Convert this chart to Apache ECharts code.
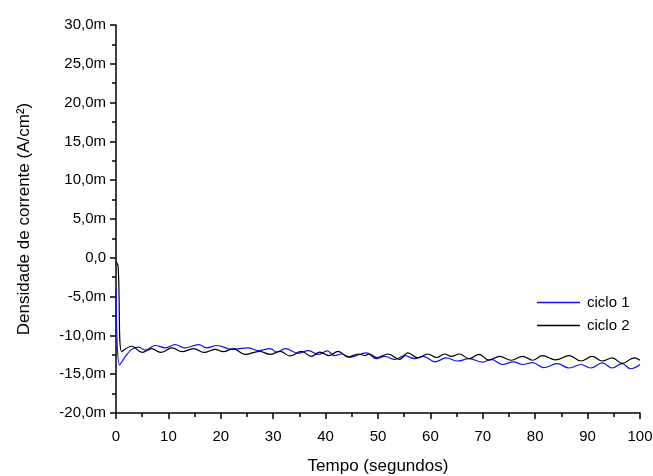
<!DOCTYPE html>
<html>
<head>
<meta charset="utf-8">
<script src="https://cdn.jsdelivr.net/npm/echarts@6/dist/echarts.min.js"></script>
<style>
html,body{margin:0;padding:0;background:#fff;}
#c{width:653px;height:476px;}
</style>
</head>
<body>
<div id="c"></div>
<script>
// Data (current density in mA/cm², time in seconds)
const seriesNames = ['ciclo 1', 'ciclo 2'];
const yTicks = [-20, -15, -10, -5, 0, 5, 10, 15, 20, 25, 30];
const xTicks = [0, 10, 20, 30, 40, 50, 60, 70, 80, 90, 100];

const ciclo1Time = [0, 0.7, 1.8, 3.0, 4.3, 5.6, 7.5, 9.4, 11.3, 13.1, 15.8, 17.3, 19.3, 22.1, 25.2, 27.2, 29.4, 30.7, 32.3, 34.8, 36.7, 38.6, 40.3, 41.7, 43.0, 44.6, 47.8, 49.7, 51.3, 53.2, 55.1, 57.0, 58.6, 60.9, 63.0, 65.2, 67.4, 70.0, 71.6, 73.8, 75.8, 77.6, 79.5, 81.6, 84.2, 86.5, 88.7, 90.6, 92.8, 94.7, 96.6, 98.2, 100];
const ciclo1Value = [-4.0, -13.8, -12.7, -11.8, -11.5, -11.9, -11.3, -11.6, -11.2, -11.6, -11.2, -11.6, -11.3, -11.8, -11.6, -11.95, -11.7, -12.15, -11.7, -12.3, -11.95, -12.45, -12.0, -12.6, -12.4, -12.8, -12.25, -13.0, -12.7, -13.1, -12.6, -13.0, -12.7, -13.4, -12.9, -13.3, -13.0, -13.45, -13.1, -13.75, -13.4, -13.75, -13.5, -14.15, -13.65, -14.2, -13.75, -14.2, -13.55, -14.2, -13.65, -14.3, -13.75];

const ciclo2Time = [0, 0.4, 1.1, 3.0, 5.0, 6.8, 8.5, 10.7, 12.6, 14.8, 16.8, 18.9, 20.5, 22.4, 24.6, 27.4, 29.4, 31.3, 33.2, 35.4, 37.3, 38.9, 40.6, 42.4, 44.3, 46.2, 47.5, 48.3, 49.8, 51.9, 54.1, 55.7, 57.6, 59.5, 61.2, 62.7, 64.0, 65.5, 67.4, 69.3, 71.2, 73.2, 75.4, 77.6, 79.5, 81.4, 83.9, 86.5, 88.7, 90.9, 92.8, 94.7, 96.6, 98.9, 100];
const ciclo2Value = [-0.5, -1.1, -12.1, -11.4, -12.2, -11.7, -12.2, -11.6, -12.1, -11.7, -12.2, -11.8, -12.1, -11.7, -12.45, -12.05, -12.45, -12.05, -12.65, -12.05, -12.7, -12.15, -12.6, -12.05, -12.8, -12.4, -12.6, -12.4, -12.85, -12.4, -13.1, -12.25, -12.9, -12.4, -12.85, -12.4, -12.7, -12.4, -13.0, -12.45, -13.2, -12.7, -13.2, -12.7, -13.2, -12.6, -13.15, -12.6, -13.3, -12.7, -13.3, -12.9, -13.6, -12.9, -13.2];

function pairs(t, v) { return t.map((x, i) => [x, v[i]]); }

const font = 'Liberation Sans, Arial, sans-serif';
const chart = echarts.init(document.getElementById('c'));
chart.setOption({
  backgroundColor: '#fff',
  animation: false,
  grid: { left: 116, right: 13, top: 25, bottom: 63, containLabel: false, outerBoundsMode: 'none' },
  legend: {
    orient: 'vertical',
    left: 532,
    top: 290,
    icon: 'rect',
    itemWidth: 43,
    itemHeight: 1.3,
    itemGap: 8,
    textStyle: { fontSize: 15, color: '#000', fontFamily: font, padding: [0, 0, 0, 2] },
    data: seriesNames
  },
  xAxis: {
    type: 'value',
    min: xTicks[0],
    max: xTicks[xTicks.length - 1],
    interval: 10,
    name: 'Tempo (segundos)',
    nameLocation: 'middle',
    nameGap: 45,
    nameTextStyle: { fontSize: 17, color: '#000', fontFamily: font },
    axisLine: { show: true, onZero: false, lineStyle: { color: '#000', width: 1.5 } },
    axisTick: { show: true, inside: false, length: 6, lineStyle: { color: '#000', width: 1.5 } },
    minorTick: { show: true, splitNumber: 2, length: 4, lineStyle: { color: '#000', width: 1.5 } },
    axisLabel: { fontSize: 15, color: '#000', fontFamily: font, margin: 16 },
    splitLine: { show: false }
  },
  yAxis: {
    type: 'value',
    min: yTicks[0],
    max: yTicks[yTicks.length - 1],
    interval: 5,
    name: 'Densidade de corrente (A/cm²)',
    nameLocation: 'middle',
    nameGap: 83,
    nameTextStyle: { fontSize: 17, color: '#000', fontFamily: font },
    axisLine: { show: true, onZero: false, lineStyle: { color: '#000', width: 1.5 } },
    axisTick: { show: true, inside: false, length: 6, lineStyle: { color: '#000', width: 1.5 } },
    minorTick: { show: true, splitNumber: 2, length: 4, lineStyle: { color: '#000', width: 1.5 } },
    axisLabel: {
      fontSize: 15, color: '#000', fontFamily: font, margin: 10,
      formatter: function (v) {
        const s = v.toFixed(1).replace('.', ',');
        return v === 0 ? s : s + 'm';
      }
    },
    splitLine: { show: false }
  },
  series: [
    {
      name: seriesNames[0], type: 'line', showSymbol: false, symbol: 'none', smooth: 0.4,
      lineStyle: { color: '#1010ff', width: 1.2 }, itemStyle: { color: '#1010ff' },
      data: pairs(ciclo1Time, ciclo1Value)
    },
    {
      name: seriesNames[1], type: 'line', showSymbol: false, symbol: 'none', smooth: 0.4,
      lineStyle: { color: '#000', width: 1.2 }, itemStyle: { color: '#000' },
      data: pairs(ciclo2Time, ciclo2Value)
    }
  ]
});
</script>
</body>
</html>
